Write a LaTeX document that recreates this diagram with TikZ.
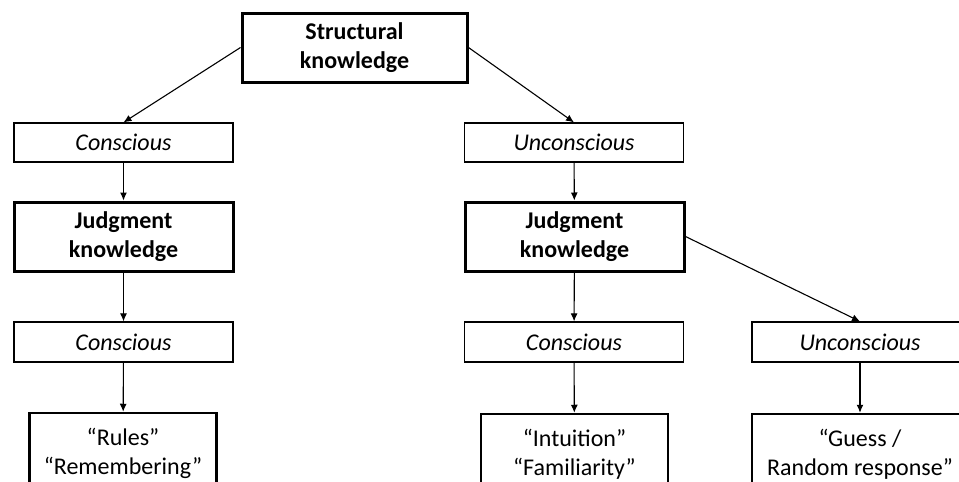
\documentclass[tikz,border=0pt]{standalone}
\usepackage{fontspec}
\setmainfont{Carlito}
\usetikzlibrary{arrows.meta}
\begin{document}
\begin{tikzpicture}[x=1pt,y=-1pt,
  thinbox/.style={draw, line width=1.2pt, minimum width=219pt, minimum height=39pt,
    inner sep=0pt, font=\fontsize{24}{29}\selectfont\itshape},
  thickbox/.style={draw, line width=3pt, minimum width=219pt, minimum height=69pt,
    inner sep=0pt, align=center, font=\fontsize{24}{29}\selectfont\bfseries},
  endbox/.style={draw, line width=2.5pt, minimum width=187pt, minimum height=80pt,
    inner sep=0pt, align=center, font=\fontsize{24}{29}\selectfont},
  arr/.style={-{Latex[length=8pt,width=7pt]}, line width=1.1pt}]
\useasboundingbox (0,0) rectangle (959,482);
\clip (0,0) rectangle (959,482);
\fill[white] (0,0) rectangle (959,482);

\node[thickbox, minimum width=225pt] (sk) at (354.5,47.5) {Structural\\knowledge};

\node[thinbox] (c1) at (123.5,142.5) {Conscious};
\node[thickbox] (j1) at (123.5,236.5) {Judgment\\knowledge};
\node[thinbox, minimum height=40pt] (c2) at (123.5,342) {Conscious};
\node[endbox] (r) at (123,453) {“Rules”\\“Remembering”};

\node[thinbox] (u1) at (574,142.5) {Unconscious};
\node[thickbox] (j2) at (574.5,236.5) {Judgment\\knowledge};
\node[thinbox, minimum height=40pt] (c3) at (574,342) {Conscious};
\node[endbox] (i) at (574.5,454) {“Intuition”\\“Familiarity”};

\node[thinbox, minimum width=216pt, minimum height=40pt] (u2) at (860,342) {Unconscious};
\node[endbox, minimum width=216pt] (g) at (860,454) {“Guess /\\Random response”};

\draw[arr] (sk.west) -- (c1.north);
\draw[arr] (sk.east) -- (u1.north);
\draw[arr] (c1) -- (j1);
\draw[arr] (j1) -- (c2);
\draw[arr] (c2) -- (r);
\draw[arr] (u1) -- (j2);
\draw[arr] (j2) -- (c3);
\draw[arr] (c3) -- (i);
\draw[arr] (j2.east) -- (u2.north);
\draw[arr] (u2) -- (g);
\end{tikzpicture}
\end{document}
